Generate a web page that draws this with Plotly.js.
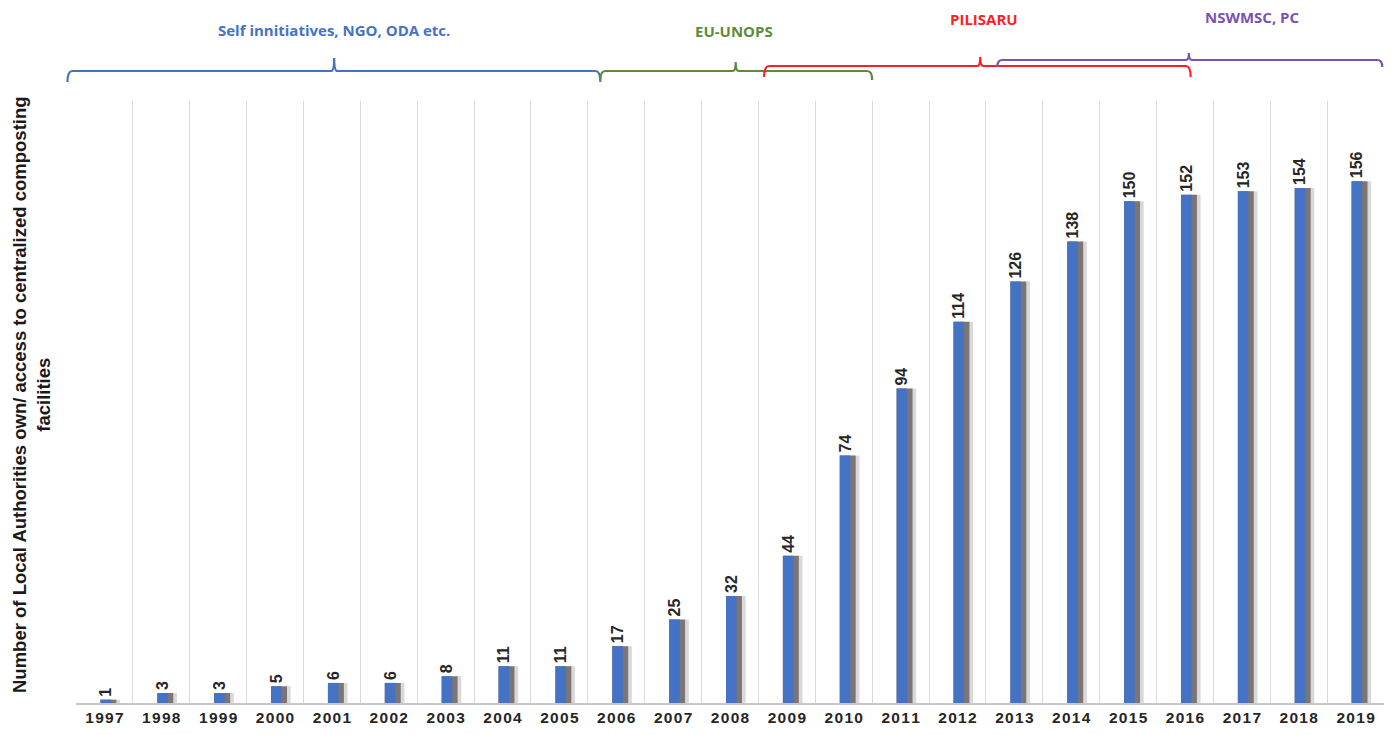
<!DOCTYPE html>
<html><head><meta charset="utf-8">
<script src="https://cdn.plot.ly/plotly-3.0.1.min.js"></script>
<style>body{margin:0;background:#fff}#chart{width:1394px;height:735px}</style>
</head><body><div id="chart"></div>
<script>
// ---- data ----
const years = ['1997','1998','1999','2000','2001','2002','2003','2004','2005','2006','2007','2008','2009','2010','2011','2012','2013','2014','2015','2016','2017','2018','2019'];
const counts = [1,3,3,5,6,6,8,11,11,17,25,32,44,74,94,114,126,138,150,152,153,154,156];
const phaseLabels = ['Self innitiatives, NGO, ODA etc.','EU-UNOPS','PILISARU','NSWMSC, PC'];
const yTitle = 'Number of Local Authorities own/ access to centralized composting<br>facilities';

// ---- layout helpers (annotation geometry, not data) ----
const L = 76, W = 1308, T = 101, H = 602, N = years.length;
const PX = idx => L + (idx + 0.5) * W / N;           // category index -> pixel x
const XP = px => (px - L) / W;                        // pixel x -> paper
const YP = py => (T + H - py) / H;                    // pixel y -> paper
const phaseColors = ['#4472C4','#5B8C3A','#FF1F1F','#7B52B4'];
const narrow = 'Liberation Sans Narrow, Arial Narrow, Liberation Sans, Arial, sans-serif';
// bracket geometry in category-index units (x) and pixels (y)
const brackets = [
  {x0:-0.65, x1:8.72,  xm:4.04,  yh:71, ye:82, yt:58, lx:4.04,  ly:30},
  {x0:8.72,  x1:13.5,  xm:11.1,  yh:71, ye:80, yt:62, lx:11.07, ly:31},
  {x0:11.6,  x1:19.1,  xm:15.4,  yh:66, ye:77, yt:57, lx:15.47, ly:19},
  {x0:15.7,  x1:22.47, xm:19.07, yh:60, ye:67, yt:53, lx:20.19, ly:17}
];
const shapes = [], annotations = [];
brackets.forEach((b,i)=>{
  const x0=PX(b.x0), x1=PX(b.x1), xm=PX(b.xm), r=5, rt=3;
  const p = `M ${XP(x0)},${YP(b.ye)} Q ${XP(x0)},${YP(b.yh)} ${XP(x0+r)},${YP(b.yh)} `+
            `L ${XP(xm-rt)},${YP(b.yh)} Q ${XP(xm)},${YP(b.yh)} ${XP(xm)},${YP(b.yt)} `+
            `Q ${XP(xm)},${YP(b.yh)} ${XP(xm+rt)},${YP(b.yh)} `+
            `L ${XP(x1-r)},${YP(b.yh)} Q ${XP(x1)},${YP(b.yh)} ${XP(x1)},${YP(b.ye)}`;
  shapes.push({type:'path', xref:'paper', yref:'paper', path:p, line:{color:phaseColors[i], width:2.2}});
  annotations.push({xref:'paper', yref:'paper', x:XP(PX(b.lx)), y:YP(b.ly), xanchor:'center', yanchor:'middle',
    text:phaseLabels[i], showarrow:false,
    font:{family:'Open Sans, Noto Sans, sans-serif', size:15, weight:700, color:phaseColors[i]}});
});
annotations.push({xref:'paper', yref:'paper', x:XP(31), y:YP(395), xanchor:'center', yanchor:'middle',
  text:yTitle, textangle:-90, showarrow:false,
  font:{family:narrow, size:18.5, weight:700, color:'#1a1a1a'}});

const tickText = years.map(y => y.split('').join('\u200A'));

const traces = [
  {type:'bar', x:years, y:counts, width:0.345, offset:-0.07, hoverinfo:'skip',
   marker:{color:'rgba(0,0,0,0.15)'}},
  {type:'bar', x:years, y:counts, width:0.28, offset:-0.07, hoverinfo:'skip',
   marker:{color:'rgba(60,50,50,0.6)'}},
  {type:'bar', x:years, y:counts, width:0.185, offset:-0.07,
   marker:{color:'#4472C4'},
   text:counts.map(String), textposition:'outside', textangle:-90, constraintext:'none', cliponaxis:false,
   textfont:{family:narrow, size:16, weight:700, color:'#262626'}}
];

const layout = {
  width:1394, height:735, margin:{l:L, r:10, t:T, b:32},
  paper_bgcolor:'#fff', plot_bgcolor:'#fff', showlegend:false, barmode:'overlay',
  xaxis:{type:'category', range:[-0.5, N-0.5], tickson:'boundaries', showgrid:true, gridcolor:'#d9d9d9', gridwidth:1,
    tickvals:years, ticktext:tickText, ticks:'outside', ticklen:7, tickcolor:'rgba(0,0,0,0)',
    showline:true, linecolor:'#c8c8c8', linewidth:1.5,
    tickfont:{family:'Liberation Sans, Arial, sans-serif', size:15.5, weight:700, color:'#262626'}},
  yaxis:{range:[0,180], showgrid:false, showticklabels:false, zeroline:false, showline:false, ticks:''},
  shapes:shapes, annotations:annotations
};
Plotly.newPlot('chart', traces, layout, {displayModeBar:false, staticPlot:true});
</script></body></html>
